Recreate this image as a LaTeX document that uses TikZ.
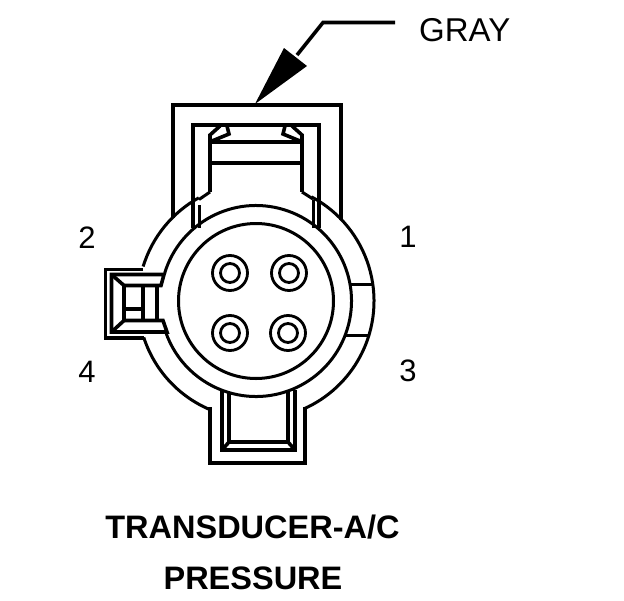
\documentclass[tikz,border=0pt]{standalone}
\usepackage{fontspec}
\setmainfont{Liberation Sans}
\begin{document}
\begin{tikzpicture}[x=1pt,y=-1pt,
  ln/.style={line width=3.6pt,line join=miter,line cap=butt},
  cur/.style={line width=3pt},
  pin/.style={line width=2.8pt},
  lab/.style={inner sep=0pt,font=\fontsize{31}{31}\selectfont},
  graylab/.style={inner sep=0pt,font=\fontsize{33}{33}\selectfont},
  ttl/.style={inner sep=0pt,font=\fontsize{32.5}{32.5}\selectfont\bfseries}]
\useasboundingbox (0,0) rectangle (624,600);
\coordinate (c) at (256,301);
% leader
\coordinate (lstart) at (395,22.5);
\coordinate (lbend) at (323,22.5);
\coordinate (tip) at (255,104);
\draw[ln] (lstart) -- (lbend) -- (297,55);
\fill (tip) -- (284,48) -- (307,66) -- cycle;
% outer shell
\draw[ln] (173,218) -- (173,105) -- (341,105) -- (341,220);
\draw[ln] (193,228) -- (193,125) -- (319,125) -- (319,228);
\draw[cur] (199,228) -- (199,205);
\draw[cur] (313,228) -- (313,200);
% tab
\draw[ln] (210,142) -- (210,192);
\draw[ln] (302,142) -- (302,192);
\draw[cur] (210,192) -- (199,199.5);
\draw[cur] (302,192) -- (313,199);
\draw[ln] (210,142) -- (302,142);
\draw[ln] (211,163) -- (301,163);
% clips
\draw[ln] (210,142) -- (210,135) -- (220,126);
\draw[ln] (227,126) -- (229,134) -- (212,141);
\draw[ln] (302,142) -- (302,135) -- (292,126);
\draw[ln] (285,126) -- (283,134) -- (300,141);
% circles
\draw[cur] (c) ++(162:118) arc[start angle=162,end angle=113,radius=118];
\draw[cur] (c) ++(197:118) arc[start angle=197,end angle=241,radius=118];
\draw[cur] (c) ++(-62:118) arc[start angle=-62,end angle=66,radius=118];
\draw[cur] (c) ++(197:95.5) arc[start angle=197,end angle=521,radius=95.5];
\draw[cur] (c) circle[radius=77.5];
% right notch
\draw[cur] (351,284) -- (374,284);
\draw[cur] (346,335) -- (369,335);
% latch
\draw[ln] (143,269.5) -- (105.5,269.5) -- (105.5,338) -- (144,338);
\draw[ln] (111.5,332) -- (111.5,274.5) -- (164,274.5) -- (161,285.5) -- (124,285.5) -- (124,320.5) -- (163,320.5) -- (167,332) -- cycle;
\draw[ln] (111.5,274.5) -- (124,285.5);
\draw[ln] (111.5,332) -- (124,320.5);
\draw[ln] (143,285.5) -- (143,320.5);
\draw[ln] (157,285.5) -- (157,320.5);
\draw[ln] (124,309) -- (143,309);
% bottom tab
\draw[ln] (210,407) -- (210,463) -- (305,463) -- (305,407);
\draw[ln] (222,390) -- (222,450) -- (295,450) -- (295,390);
\draw[ln] (229,393) -- (229,442) -- (288,442) -- (288,392);
\draw[ln] (222,450) -- (229,442);
\draw[ln] (295,450) -- (288,442);
% pins
\foreach \n/\x/\y in {a/230/273,b/289/273,c2/230/333,d/288/333}{
  \draw[pin] (\x,\y) circle[radius=17.5];
  \draw[pin] (\x,\y) circle[radius=9.5];
}
% labels
\node[graylab,anchor=west] (gray) at (419,30) {GRAY};
\node[lab] (n2) at (87,238) {2};
\node[lab] (n1) at (408,237) {1};
\node[lab] (n4) at (87,372) {4};
\node[lab] (n3) at (408,371) {3};
\node[ttl] (t1) at (252.5,527) {TRANSDUCER-A/C};
\node[ttl] (t2) at (253,578) {PRESSURE};
\end{tikzpicture}
\end{document}
